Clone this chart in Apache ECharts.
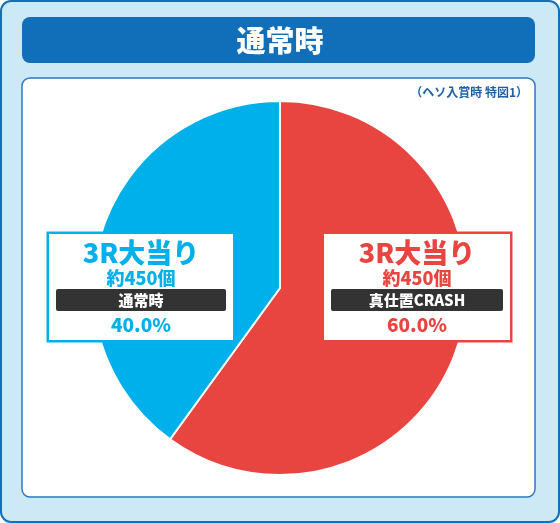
<!DOCTYPE html>
<html lang="ja">
<head>
<meta charset="UTF-8">
<title>通常時</title>
<script src="https://cdn.jsdelivr.net/npm/echarts@6/dist/echarts.min.js"></script>
<style>
  html, body { margin: 0; padding: 0; background: #fff; }
  #chart { width: 560px; height: 523px; }
</style>
</head>
<body>
<div id="chart"></div>
<script>
const names = ["真仕置CRASH", "通常時"];
const values = [60.0, 40.0];
const colors = ["#e94540", "#00b0ea"];
const labelPos = [[417, 287], [141, 287]];

const font = '"Noto Sans CJK JP", sans-serif';
const chart = echarts.init(document.getElementById("chart"));

function richFor(color, w) {
  return {
    t: { fontSize: 27, fontWeight: 900, color: color, fontFamily: font, lineHeight: 30 },
    s: { fontSize: 18, fontWeight: 900, color: color, fontFamily: font, lineHeight: 20 },
    b: { fontSize: 15, fontWeight: 900, color: "#fff", fontFamily: font, backgroundColor: "#333",
         width: w, height: 22, lineHeight: 24, align: "center", borderRadius: 2 },
    p: { fontSize: 19, fontWeight: 900, color: color, fontFamily: font, lineHeight: 26 }
  };
}

chart.setOption({
  animation: false,
  graphic: [
    { type: "rect", shape: { x: 1, y: 1, width: 558, height: 521, r: 10 },
      style: { fill: "#cde9f6", stroke: "#1070b8", lineWidth: 2 }, z: -10 },
    { type: "rect", shape: { x: 22, y: 17, width: 513, height: 46, r: 8 },
      style: { fill: "#106fb8" }, z: -9 },
    { type: "text", x: 280, y: 41, style: { text: "通常時", fill: "#fff", font: "900 29px " + font,
      textAlign: "center", textVerticalAlign: "middle" }, z: -8 },
    { type: "rect", shape: { x: 22, y: 78, width: 513, height: 419, r: 8 },
      style: { fill: "#fff", stroke: "#2a78c2", lineWidth: 1.5 }, z: -9 },
    { type: "text", x: 528, y: 92, style: { text: "（ヘソ入賞時 特図1）", fill: "#1f5fa5", font: "bold 12px " + font,
      textAlign: "right", textVerticalAlign: "middle" }, z: -8 }
  ],
  series: [{
    type: "pie",
    center: [280, 288],
    radius: [0, 187],
    startAngle: 90,
    clockwise: true,
    data: names.map((n, i) => ({
      name: n, value: values[i],
      itemStyle: { color: colors[i] },
      label: { rich: richFor(colors[i], i === 0 ? 172 : 170) }
    })),
    itemStyle: { borderColor: "#fff", borderWidth: 2 },
    label: {
      show: true,
      position: "inside",
      align: "center",
      backgroundColor: "#fff",
      borderWidth: 2.5,
      borderColor: "inherit",
      padding: [4, 7, 2, 7],
      formatter: p => "{t|3R大当り}\n{s|約450個}\n{b|" + p.name + "}\n{p|" + p.value.toFixed(1) + "%}"
    },
    labelLine: { show: false },
    labelLayout: p => ({ x: labelPos[p.dataIndex][0], y: labelPos[p.dataIndex][1], align: "center", verticalAlign: "middle" })
  }]
});
</script>
</body>
</html>
